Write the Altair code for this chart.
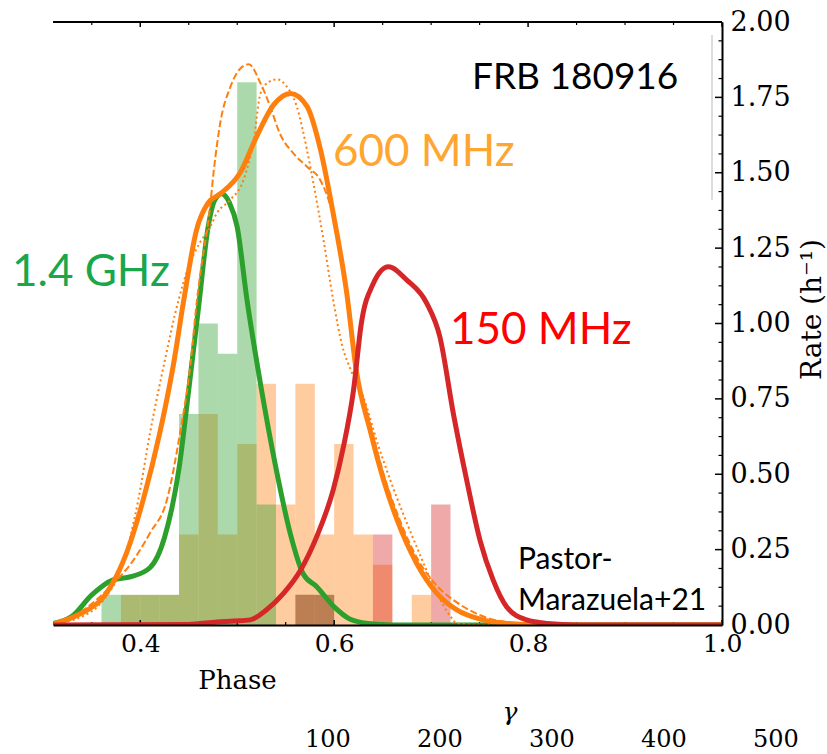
import altair as alt
import pandas as pd

# ---------------- data ----------------
BIN_W = 0.02
orange_bins = [0.38, 0.40, 0.42, 0.44, 0.46, 0.48, 0.50, 0.52, 0.54, 0.56, 0.58, 0.60, 0.62, 0.64, 0.68]
orange_rate = [0.1, 0.1, 0.1, 0.3, 0.7, 0.3, 0.6, 0.8, 0.4, 0.8, 0.3, 0.6, 0.3, 0.2, 0.1]
green_bins = [0.36, 0.38, 0.40, 0.42, 0.44, 0.46, 0.48, 0.50, 0.52, 0.56, 0.58]
green_rate = [0.1, 0.1, 0.1, 0.1, 0.7, 1.0, 0.9, 1.8, 0.4, 0.1, 0.1]
red_bins = [0.56, 0.58, 0.64, 0.70]
red_rate = [0.1, 0.1, 0.3, 0.4]

green_kde_x = [0.31, 0.33, 0.35, 0.372, 0.39, 0.41, 0.425, 0.44, 0.45, 0.46, 0.47, 0.477, 0.484,
               0.492, 0.50, 0.51, 0.524, 0.54, 0.555, 0.568, 0.582, 0.60, 0.616, 0.635, 0.66, 0.70, 1.0]
green_kde_y = [0.005, 0.03, 0.10, 0.15, 0.16, 0.19, 0.29, 0.52, 0.78, 1.05, 1.32, 1.41, 1.43,
               1.40, 1.32, 1.08, 0.80, 0.52, 0.30, 0.17, 0.127, 0.06, 0.02, 0.005, 0.0, 0.0, 0.0]

orange_kde_x = [0.31, 0.3175, 0.34, 0.365, 0.386, 0.403, 0.42, 0.434, 0.445, 0.458, 0.47, 0.4825,
                0.503, 0.52, 0.5375, 0.555, 0.572, 0.586, 0.599, 0.613, 0.623, 0.637, 0.651, 0.665,
                0.685, 0.706, 0.7265, 0.7535, 0.78, 0.81, 1.0]
orange_kde_y = [0.003, 0.01, 0.04, 0.105, 0.24, 0.415, 0.635, 0.86, 1.08, 1.31, 1.40, 1.43,
                1.50, 1.62, 1.725, 1.763, 1.72, 1.575, 1.365, 1.10, 0.84, 0.647, 0.48, 0.348,
                0.205, 0.105, 0.05, 0.017, 0.005, 0.0, 0.0]

orange_dash_x = [0.31, 0.3415, 0.369, 0.393, 0.41, 0.4275, 0.441, 0.4515, 0.4585, 0.462, 0.472,
                 0.4756, 0.4825, 0.493, 0.503, 0.512, 0.524, 0.534, 0.544, 0.558, 0.572, 0.5856,
                 0.599, 0.6095, 0.62, 0.637, 0.651, 0.665, 0.685, 0.706, 0.7265, 0.754, 0.78, 0.81, 1.0]
orange_dash_y = [0.005, 0.05, 0.127, 0.215, 0.305, 0.415, 0.636, 0.857, 1.078, 1.166, 1.387,
                 1.50, 1.665, 1.785, 1.845, 1.86, 1.797, 1.72, 1.63, 1.564, 1.52, 1.476,
                 1.354, 1.166, 0.90, 0.67, 0.50, 0.37, 0.225, 0.13, 0.075, 0.028, 0.008, 0.0, 0.0]

orange_dot_x = [0.31, 0.3415, 0.362, 0.381, 0.398, 0.41, 0.424, 0.4395, 0.45, 0.46, 0.472, 0.479,
                0.4928, 0.5065, 0.517, 0.524, 0.532, 0.541, 0.55, 0.5614, 0.572, 0.5786, 0.589,
                0.599, 0.608, 0.618, 0.630, 0.645, 0.658, 0.685, 0.706, 0.72, 0.7265, 0.75, 1.0]
orange_dot_y = [0.005, 0.03, 0.083, 0.193, 0.415, 0.636, 0.857, 1.078, 1.19, 1.26, 1.32, 1.366,
                1.41, 1.476, 1.61, 1.763, 1.80, 1.81, 1.79, 1.72, 1.575, 1.465, 1.277,
                1.078, 0.93, 0.84, 0.757, 0.60, 0.48, 0.26, 0.105, 0.028, 0.005, 0.0, 0.0]

red_kde_x = [0.31, 0.45, 0.479, 0.4965, 0.5134, 0.53, 0.5477, 0.565, 0.582, 0.599, 0.6095, 0.62,
             0.628, 0.64, 0.656, 0.675, 0.6955, 0.709, 0.723, 0.7367, 0.7505, 0.764, 0.778,
             0.7985, 0.82, 0.85, 1.0]
red_kde_y = [0.0, 0.002, 0.01, 0.013, 0.017, 0.05, 0.105, 0.18, 0.293, 0.448, 0.59, 0.78,
             1.0, 1.13, 1.188, 1.144, 1.067, 0.956, 0.70, 0.48, 0.28, 0.149, 0.06,
             0.017, 0.005, 0.0, 0.0]

x_major = [0.4, 0.6, 0.8, 1.0]
x_minor = [0.35, 0.45, 0.5, 0.55, 0.65, 0.7, 0.75, 0.85, 0.9, 0.95]
y_major = [0.0, 0.25, 0.5, 0.75, 1.0, 1.25, 1.5, 1.75, 2.0]
y_minor = [0.0625, 0.125, 0.1875, 0.3125, 0.375, 0.4375, 0.5625, 0.625, 0.6875, 0.8125, 0.875,
           0.9375, 1.0625, 1.125, 1.1875, 1.3125, 1.375, 1.4375, 1.5625, 1.625, 1.6875, 1.8125,
           1.875, 1.9375]
gamma_ticks = [100, 200, 300, 400, 500]

# ---------------- styling ----------------
W, H = 669, 603
SERIF = "DejaVu Serif"
SANS = "Lato"
C_GREEN, C_ORANGE, C_RED = "#2ca02c", "#ff7f0e", "#d62728"
xs = alt.Scale(domain=[0.31, 1.0], nice=False, zero=False)
ys = alt.Scale(domain=[0, 2], nice=False, zero=True)


def X(field, axis=None):
    return alt.X(field, type="quantitative", scale=xs, axis=axis)


def Y(field, axis=None):
    return alt.Y(field, type="quantitative", scale=ys, axis=axis)


def hist(bins, rate, color):
    df = pd.DataFrame({"start": bins, "rate": rate})
    return (
        alt.Chart(df)
        .transform_calculate(end=f"datum.start + {BIN_W}")
        .mark_rect(color=color, opacity=0.4, strokeWidth=0)
        .encode(x=X("start"), x2="end:Q", y=Y("rate"), y2=alt.datum(0))
    )


def kde(xv, yv, color, width, dash=None):
    df = pd.DataFrame({"phase": xv, "rate": yv})
    kw = dict(color=color, strokeWidth=width, clip=True, interpolate="monotone")
    if dash is not None:
        kw["strokeDash"] = dash
    else:
        kw["strokeCap"] = "round"
    return alt.Chart(df).mark_line(**kw).encode(x=X("phase"), y=Y("rate"))


x_axis = alt.Axis(
    values=x_major, format=".1f", ticks=False, grid=False,
    labelFont=SERIF, labelFontSize=25, labelColor="black", labelPadding=6,
    labelFlush=False, labelOverlap=False,
    domainColor="black", domainWidth=2, zindex=1,
    title="Phase", titleFont=SERIF, titleFontSize=26, titleFontWeight="normal",
    titleColor="black", titleX=184, titleY=63, titleAlign="center", titleBaseline="alphabetic",
)
y_axis = alt.Axis(
    orient="right", values=y_major, format=".2f", ticks=False, grid=False,
    labelFont=SERIF, labelFontSize=27, labelColor="black", labelPadding=8,
    labelFlush=False, labelOverlap=False,
    domainColor="black", domainWidth=2, zindex=1,
    title="Rate (h⁻¹)", titleFont=SERIF, titleFontSize=28, titleFontWeight="normal",
    titleColor="black", titleAngle=270, titleX=90, titleY=287, titleAlign="center",
    titleBaseline="middle",
)

one = pd.DataFrame({"k": [0]})

# ticks (inward)
xmaj = pd.DataFrame({"t": x_major})
xmin = pd.DataFrame({"t": x_minor})
ymaj = pd.DataFrame({"t": y_major})
ymin = pd.DataFrame({"t": y_minor})

tick_bottom_major = alt.Chart(xmaj).mark_rule(color="black", strokeWidth=1.5).encode(
    x=X("t", axis=x_axis), y=alt.value(H), y2=alt.value(H - 5))
tick_bottom_minor = alt.Chart(xmin).mark_rule(color="black", strokeWidth=1.2).encode(
    x=X("t"), y=alt.value(H), y2=alt.value(H - 3))
tick_top_major = alt.Chart(xmaj).mark_rule(color="black", strokeWidth=1.5).encode(
    x=X("t"), y=alt.value(0), y2=alt.value(5))
tick_top_minor = alt.Chart(xmin).mark_rule(color="black", strokeWidth=1.2).encode(
    x=X("t"), y=alt.value(0), y2=alt.value(3))
tick_right_major = alt.Chart(ymaj).mark_rule(color="black", strokeWidth=1.5).encode(
    y=Y("t", axis=y_axis), x=alt.value(W), x2=alt.value(W - 7))
tick_right_minor = alt.Chart(ymin).mark_rule(color="black", strokeWidth=1.2).encode(
    y=Y("t"), x=alt.value(W), x2=alt.value(W - 3.5))

top_frame = alt.Chart(one).mark_rule(color="black", strokeWidth=2).encode(
    x=alt.value(0), x2=alt.value(W), y=alt.value(0))
legend_edge = alt.Chart(one).mark_rule(color="#dcdcdc", strokeWidth=2).encode(
    x=alt.value(659), y=alt.value(13), y2=alt.value(178))


def label(text, x, y, color, size, font=SANS, align="left", baseline="alphabetic", style="normal"):
    return alt.Chart(one).mark_text(
        text=text, color=color, fontSize=size, font=font, align=align,
        baseline=baseline, fontStyle=style,
    ).encode(x=alt.value(x), y=alt.value(y))


labels = [
    label("FRB 180916", 419, 67, "black", 37),
    label("600 MHz", 280, 144, "#ffa630", 44),
    label("1.4 GHz", -41, 264, "#1aa64b", 44),
    label("150 MHz", 397, 322, "#ff0000", 44),
    label("Pastor-", 465, 547, "black", 30),
    label("Marazuela+21", 465, 588, "black", 30),
    label("γ", 457, 690, "black", 25, font=SERIF, align="center", baseline="middle", style="italic"),
]

gamma = alt.Chart(pd.DataFrame({"g": gamma_ticks})).mark_text(
    font=SERIF, fontSize=24, color="black", baseline="middle", align="center"
).encode(
    x=alt.X("g:Q", scale=alt.Scale(domain=[-145.5, 451.8], nice=False, zero=False), axis=None),
    y=alt.value(718),
    text=alt.Text("g:Q", format="d"),
)

chart = alt.layer(
    hist(orange_bins, orange_rate, C_ORANGE),
    hist(green_bins, green_rate, C_GREEN),
    hist(red_bins, red_rate, C_RED),
    tick_bottom_major, tick_bottom_minor, tick_top_major, tick_top_minor,
    tick_right_major, tick_right_minor, top_frame, legend_edge,
    kde(green_kde_x, green_kde_y, C_GREEN, 5),
    kde(orange_dash_x, orange_dash_y, C_ORANGE, 2, [7, 3]),
    kde(orange_dot_x, orange_dot_y, C_ORANGE, 2, [2, 3]),
    kde(orange_kde_x, orange_kde_y, C_ORANGE, 5),
    kde(red_kde_x, red_kde_y, C_RED, 5),
    *labels,
    gamma,
).resolve_scale(x="independent", y="independent").properties(
    width=W, height=H, autosize="none",
    padding={"left": 53, "top": 22, "right": 105, "bottom": 129},
    background="white",
).configure_view(strokeWidth=0)

chart.save("out.html", embed_options={"renderer": "svg", "actions": False})
